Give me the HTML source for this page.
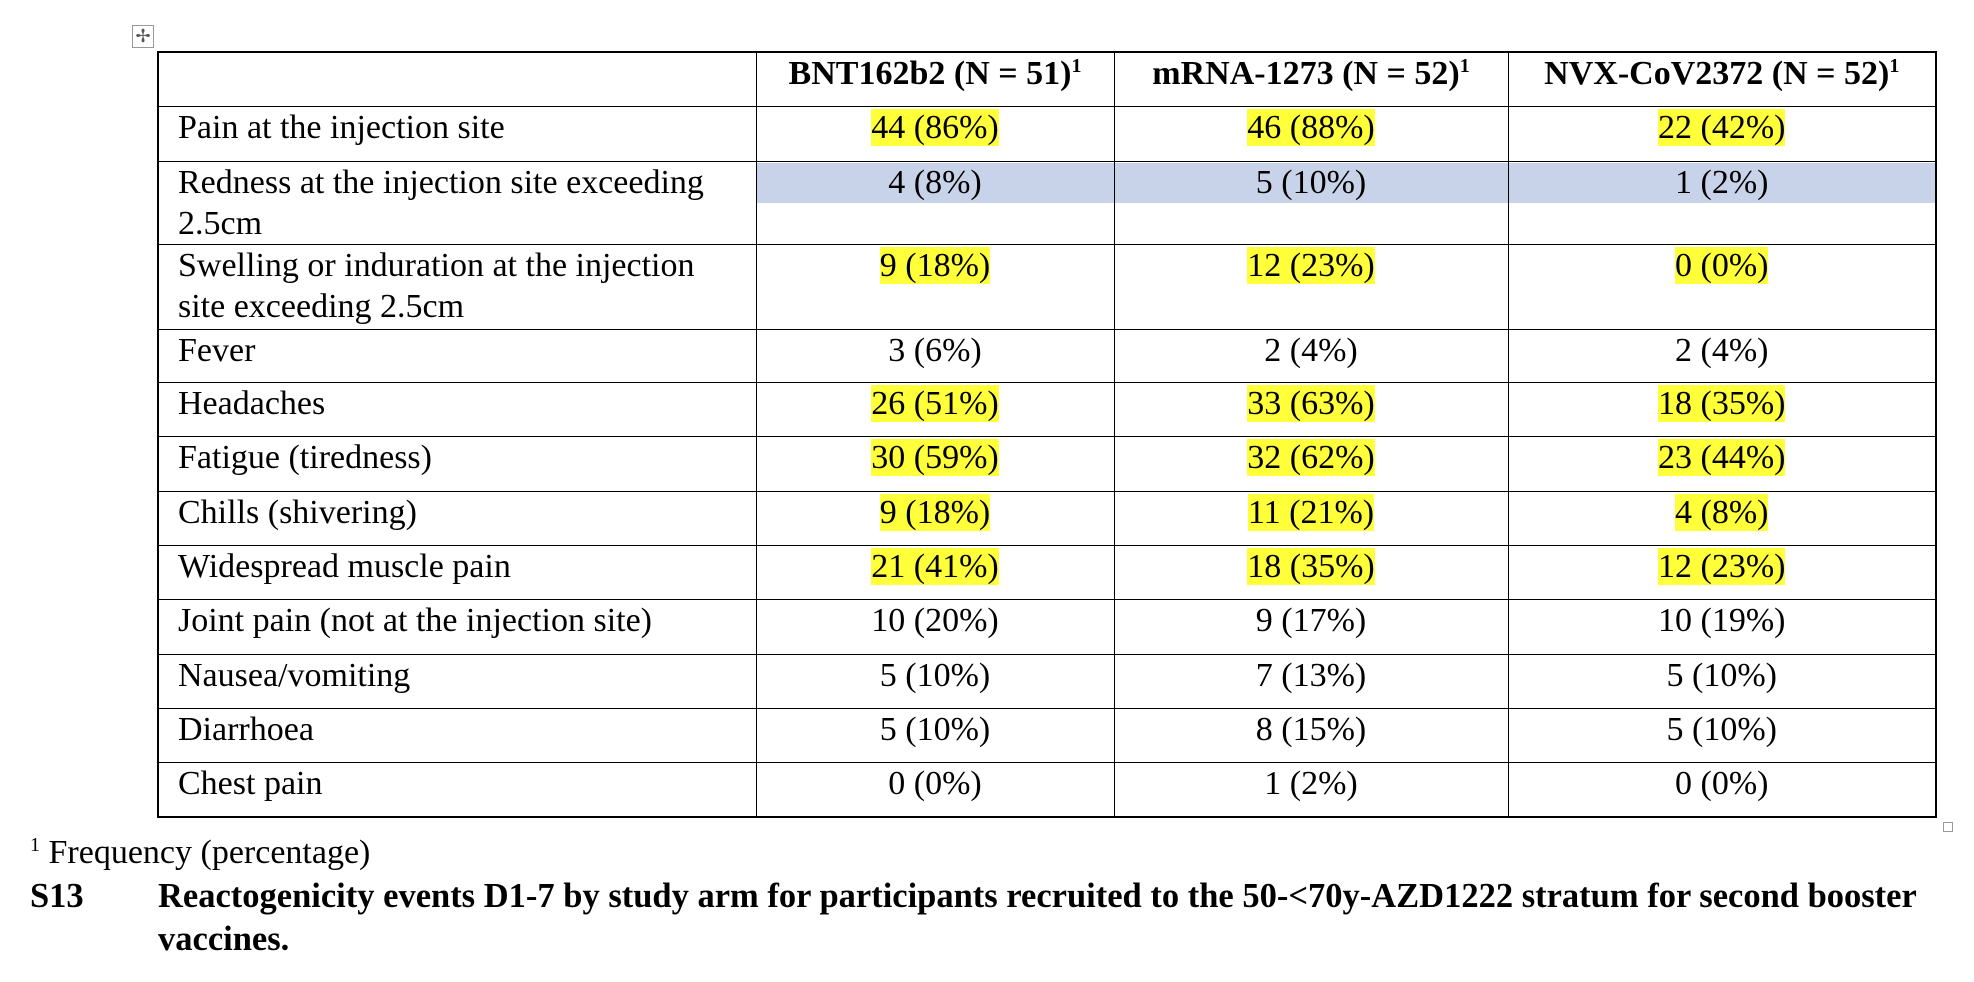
<!DOCTYPE html>
<html><head><meta charset="utf-8"><style>
body{margin:0;width:1974px;height:982px;background:#fff;position:relative;overflow:hidden;font-family:"Liberation Serif","Times New Roman",serif;color:#000}
table{position:absolute;left:157px;top:51px;border-collapse:collapse;table-layout:fixed;font-size:34px;border:2px solid #000}
td{border:1.5px solid #000;padding:0;vertical-align:top;line-height:41px;text-align:center;overflow:hidden}
td.l{text-align:left;padding-left:19px}
th{border:1.5px solid #000;font-weight:bold;line-height:41px;vertical-align:top;padding:0}
sup{font-size:20px;line-height:0;vertical-align:12px}
.y{background:#ffff3a}
.b{background:#c8d3ea;height:40px;margin-top:1px;line-height:40px}
.abs{position:absolute;white-space:nowrap}
</style></head><body>
<div class="abs" style="left:132px;top:25px;width:20px;height:21px;border:1.5px solid #999;font-size:18px;line-height:20px;text-align:center;color:#555">✢</div>
<table>
<colgroup><col style="width:598px"><col style="width:358px"><col style="width:394px"><col style="width:428px"></colgroup>
<tr style="height:54px"><th></th><th>BNT162b2 (N = 51)<sup>1</sup></th><th>mRNA-1273 (N = 52)<sup>1</sup></th><th>NVX-CoV2372 (N = 52)<sup>1</sup></th></tr>
<tr style="height:55px"><td class="l">Pain at the injection site</td><td><span class="y">44 (86%)</span></td><td><span class="y">46 (88%)</span></td><td><span class="y">22 (42%)</span></td></tr>
<tr style="height:82px"><td class="l">Redness at the injection site exceeding<br>2.5cm</td><td><div class="b">4 (8%)</div></td><td><div class="b">5 (10%)</div></td><td><div class="b">1 (2%)</div></td></tr>
<tr style="height:85px"><td class="l">Swelling or induration at the injection<br>site exceeding 2.5cm</td><td><span class="y">9 (18%)</span></td><td><span class="y">12 (23%)</span></td><td><span class="y">0 (0%)</span></td></tr>
<tr style="height:53px"><td class="l">Fever</td><td>3 (6%)</td><td>2 (4%)</td><td>2 (4%)</td></tr>
<tr style="height:54px"><td class="l">Headaches</td><td><span class="y">26 (51%)</span></td><td><span class="y">33 (63%)</span></td><td><span class="y">18 (35%)</span></td></tr>
<tr style="height:55px"><td class="l">Fatigue (tiredness)</td><td><span class="y">30 (59%)</span></td><td><span class="y">32 (62%)</span></td><td><span class="y">23 (44%)</span></td></tr>
<tr style="height:54px"><td class="l">Chills (shivering)</td><td><span class="y">9 (18%)</span></td><td><span class="y">11 (21%)</span></td><td><span class="y">4 (8%)</span></td></tr>
<tr style="height:54px"><td class="l">Widespread muscle pain</td><td><span class="y">21 (41%)</span></td><td><span class="y">18 (35%)</span></td><td><span class="y">12 (23%)</span></td></tr>
<tr style="height:55px"><td class="l">Joint pain (not at the injection site)</td><td>10 (20%)</td><td>9 (17%)</td><td>10 (19%)</td></tr>
<tr style="height:54px"><td class="l">Nausea/vomiting</td><td>5 (10%)</td><td>7 (13%)</td><td>5 (10%)</td></tr>
<tr style="height:54px"><td class="l">Diarrhoea</td><td>5 (10%)</td><td>8 (15%)</td><td>5 (10%)</td></tr>
<tr style="height:55px"><td class="l">Chest pain</td><td>0 (0%)</td><td>1 (2%)</td><td>0 (0%)</td></tr>
</table>
<div class="abs" style="left:1943px;top:822px;width:8px;height:8px;border:1px solid #999"></div>
<div class="abs" style="left:30px;top:832px;font-size:34px;line-height:42px"><sup>1</sup> Frequency (percentage)</div>
<div class="abs" style="left:30px;top:875px;font-size:34.5px;line-height:43px;font-weight:bold">S13</div>
<div class="abs" style="left:158px;top:875px;font-size:34.5px;line-height:43px;font-weight:bold">Reactogenicity events D1-7 by study arm for participants recruited to the 50-&lt;70y-AZD1222 stratum for second booster<br>vaccines.</div>
</body></html>
